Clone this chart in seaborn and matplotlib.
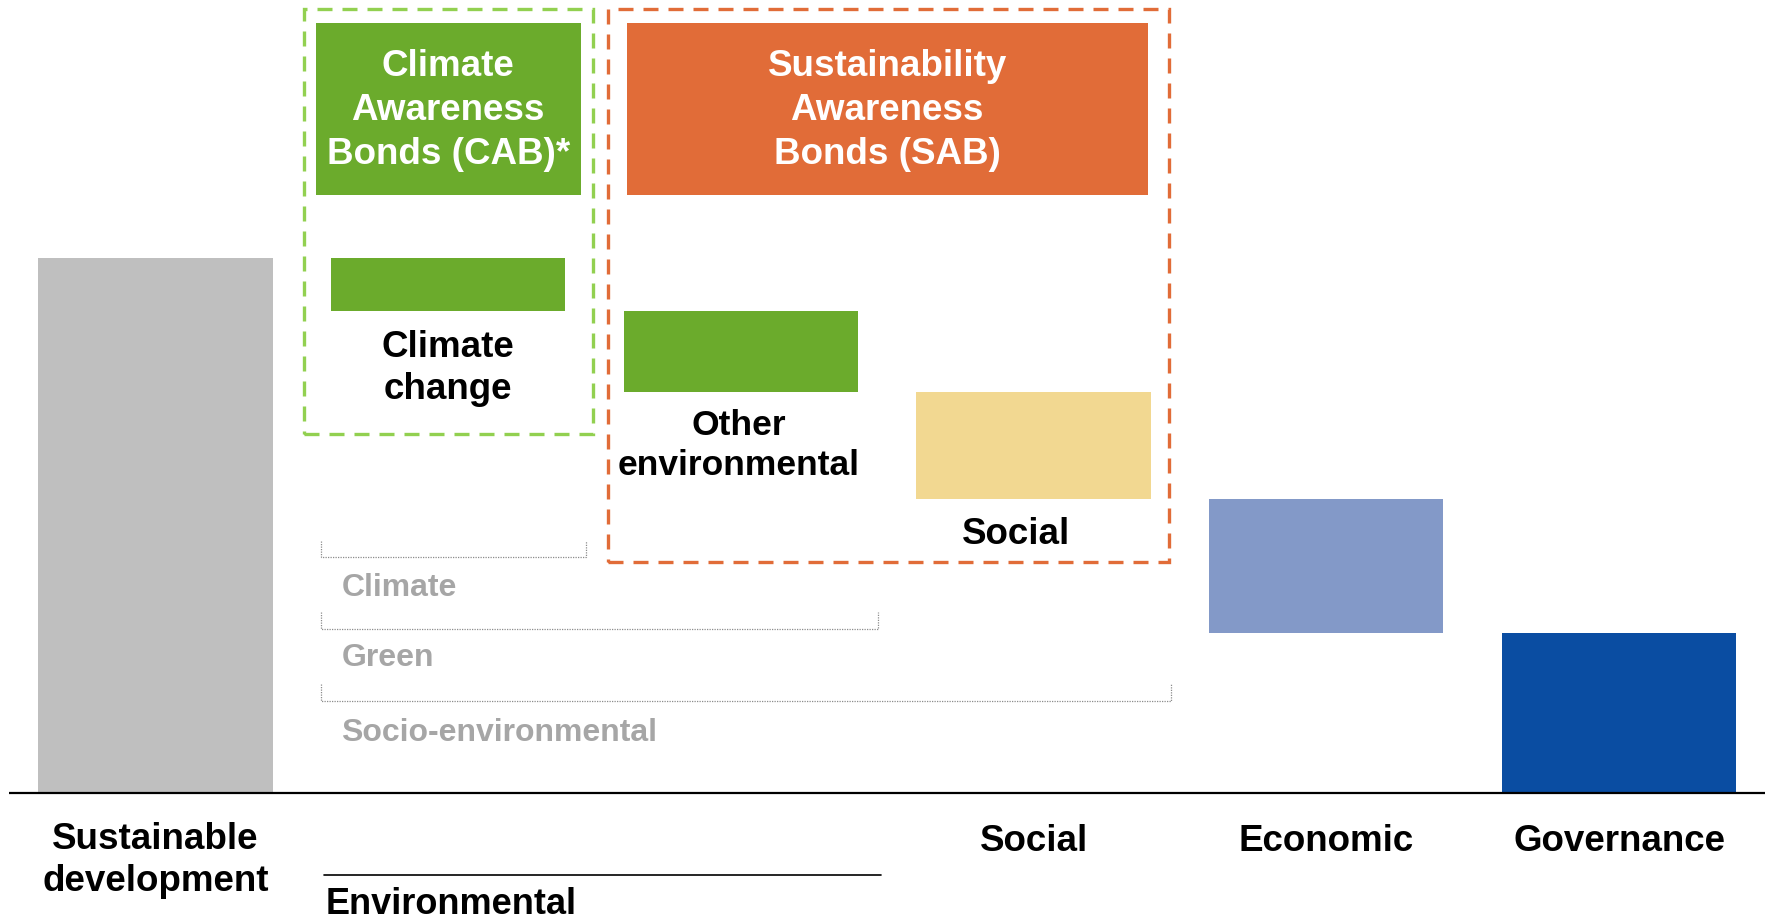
import matplotlib
matplotlib.use("Agg")
import matplotlib.pyplot as plt
import seaborn as sns
import numpy as np
import pandas as pd
from matplotlib.patches import Rectangle

# ---------------- data ----------------
categories = ["Sustainable development", "Climate change", "Other environmental",
              "Social", "Economic", "Governance"]
total_value = 100
step_values = [10, 15, 20, 25, 30]
bar_colors = ["#BFBFBF", "#6BAB2C", "#6BAB2C", "#F2D891", "#8399C8", "#0A4DA2"]
axis_labels = ["Sustainable\ndevelopment", "", "", "Social", "Economic", "Governance"]
bracket_labels = ["Climate", "Green", "Socio-environmental"]
bracket_spans = [(1, 1), (1, 2), (1, 3)]   # category index ranges covered

# waterfall heights/bottoms derived from the values
heights = [total_value] + step_values
bottoms = [0] + list(total_value - np.cumsum(step_values))

sns.set_theme(style="white")
plt.rcParams["font.family"] = ["Liberation Sans", "DejaVu Sans"]

fig = plt.figure(figsize=(17.68, 9.22), dpi=100)
ax = fig.add_axes([0, 0, 1, 1])

df = pd.DataFrame({"cat": categories, "h": heights})
sns.barplot(data=df, x="cat", y="h", order=categories, bottom=bottoms,
            width=0.8, color="#BFBFBF", errorbar=None, ax=ax, linewidth=0)
for p, c in zip(ax.patches, bar_colors):
    p.set_facecolor(c)
    p.set_edgecolor("none")

ax.set_xlim(-0.531, 5.509)
ax.set_ylim(-24.1, 148.2)
ax.axis("off")

# baseline
ax.plot([-0.50, 5.50], [0, 0], color="black", lw=1.6, solid_capstyle="butt")

# bottom category labels
for i, lab in enumerate(axis_labels):
    if not lab:
        continue
    y = -12.6 if "\n" in lab else -9.0
    ax.text(i, y, lab, ha="center", va="center", fontsize=26.5,
            fontweight="bold", color="black", linespacing=1.23)

# Environmental group label
ax.plot([0.575, 2.48], [-15.3, -15.3], color="black", lw=1.2)
ax.text(0.58, -20.9, "Environmental", ha="left", va="center", fontsize=26,
        fontweight="bold", color="black")

# bar labels
ax.text(1.0, 79.3, "Climate\nchange", ha="center", va="center", fontsize=26.5,
        fontweight="bold", color="black", linespacing=1.26)
ax.text(1.993, 65.0, "Other\nenvironmental", ha="center", va="center",
        fontsize=25.5, fontweight="bold", color="black", linespacing=1.28)
ax.text(2.94, 48.4, "Social", ha="center", va="center", fontsize=26.5,
        fontweight="bold", color="black")

# label boxes for bond types
ax.add_patch(Rectangle((0.548, 111.8), 0.906, 32.1, facecolor="#6BAB2C",
                       edgecolor="none", zorder=3))
ax.text(1.0, 127.5, "Climate\nAwareness\nBonds (CAB)*", ha="center", va="center",
        fontsize=26.5, fontweight="bold", color="white", linespacing=1.34, zorder=4)
ax.add_patch(Rectangle((1.61, 111.8), 1.78, 32.1, facecolor="#E16C38",
                       edgecolor="none", zorder=3))
ax.text(2.5, 127.5, "Sustainability\nAwareness\nBonds (SAB)", ha="center", va="center",
        fontsize=26.5, fontweight="bold", color="white", linespacing=1.34, zorder=4)

# dashed grouping frames
ax.add_patch(Rectangle((0.507, 67.1), 0.988, 79.4, fill=False,
                       edgecolor="#92D050", lw=2.4, linestyle=(0, (4.5, 3)), zorder=5))
ax.add_patch(Rectangle((1.546, 43.2), 1.916, 103.3, fill=False,
                       edgecolor="#E16C38", lw=2.4, linestyle=(0, (4.5, 3)), zorder=5))

# dotted brackets with grey labels
bracket_y = [(47.1, 44.1), (33.8, 30.7), (20.4, 17.2)]
label_y = [38.4, 25.2, 11.3]
for (a, b), (yt, yb), lab, ly in zip(bracket_spans, bracket_y, bracket_labels, label_y):
    x0 = a - 0.435
    x1 = b + 0.47 if b != a else b + 0.471
    ax.plot([x0, x0, x1, x1], [yt, yb, yb, yt], color="#8C8C8C", lw=0.9,
            linestyle=(0, (1, 1)))
    ax.text(0.635, ly, lab, ha="left", va="center", fontsize=23,
            fontweight="bold", color="#A6A6A6")

fig.savefig("out.png", dpi=100, facecolor="white")
